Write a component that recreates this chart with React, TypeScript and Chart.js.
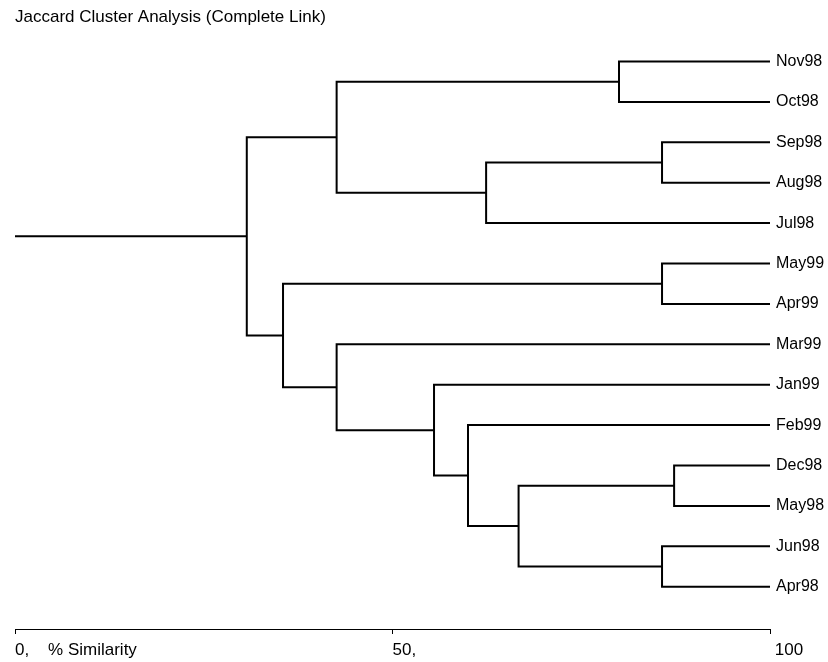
import React, { useEffect, useRef } from "react";
import { Chart, registerables } from "chart.js";

Chart.register(...registerables);

// Leaves, top to bottom
const leafLabels = [
  "Nov98", "Oct98", "Sep98", "Aug98", "Jul98", "May99", "Apr99",
  "Mar99", "Jan99", "Feb99", "Dec98", "May98", "Jun98", "Apr98",
];

// Merges (node ids: 0..13 leaves, 14+ = merge k)
const mergeLeft = [0, 2, 15, 14, 5, 10, 12, 19, 9, 8, 7, 18, 17];
const mergeRight = [1, 3, 4, 16, 6, 11, 13, 20, 21, 22, 23, 24, 25];
const mergeSimilarity = [80.0, 85.7, 62.4, 42.6, 85.7, 87.3, 85.7, 66.7, 60.0, 55.5, 42.6, 35.5, 30.7];
const rootStart = 0;
const leafSimilarity = 100;

const xTickValues = [0, 50, 100];
const xTickLabels = ["0,    % Similarity", "50,", " 100"];

const titleText = "Jaccard Cluster Analysis (Complete Link)";

function buildDatasets() {
  const nodeX: number[] = leafLabels.map(() => leafSimilarity);
  const nodeY: number[] = leafLabels.map((_, i) => i);
  const datasets: any[] = [];
  mergeSimilarity.forEach((h, k) => {
    const a = mergeLeft[k];
    const b = mergeRight[k];
    const ya = nodeY[a];
    const yb = nodeY[b];
    datasets.push({
      data: [
        { x: nodeX[a], y: ya },
        { x: h, y: ya },
        { x: h, y: yb },
        { x: nodeX[b], y: yb },
      ],
    });
    nodeX.push(h);
    nodeY.push((ya + yb) / 2);
  });
  const rootId = nodeX.length - 1;
  datasets.push({
    data: [
      { x: rootStart, y: nodeY[rootId] },
      { x: nodeX[rootId], y: nodeY[rootId] },
    ],
  });
  return datasets.map((d) => ({
    ...d,
    showLine: true,
    borderColor: "#000",
    borderWidth: 2,
    pointRadius: 0,
    pointHoverRadius: 0,
    tension: 0,
    borderJoinStyle: "miter",
    borderCapStyle: "butt",
    fill: false,
  }));
}

export default function App() {
  const ref = useRef<HTMLCanvasElement>(null);
  useEffect(() => {
    if (!ref.current) return;
    const chart = new Chart(ref.current, {
      type: "scatter",
      data: { datasets: buildDatasets() },
      options: {
        animation: false,
        responsive: false,
        devicePixelRatio: 1,
        events: [],
        layout: { padding: { left: 15, right: 0, top: 0, bottom: 0 } },
        plugins: {
          legend: { display: false },
          tooltip: { enabled: false },
          title: {
            display: true,
            text: titleText,
            align: "start",
            color: "#000",
            font: { family: "'Liberation Sans', Arial, sans-serif", size: 17, weight: "normal" },
            padding: { top: 7, bottom: 12.6 },
          },
        },
        scales: {
          x: {
            type: "linear",
            position: "bottom",
            min: 0,
            max: 100,
            afterBuildTicks: (scale: any) => {
              scale.ticks = xTickValues.map((v) => ({ value: v }));
            },
            afterFit: (scale: any) => {
              scale.height = 33;
            },
            grid: {
              drawOnChartArea: false,
              drawTicks: true,
              tickLength: 5,
              color: "#000",
              lineWidth: 1,
            },
            border: { display: true, color: "#000", width: 1 },
            ticks: {
              autoSkip: false,
              maxRotation: 0,
              align: "start",
              padding: 6,
              color: "#000",
              font: { family: "'Liberation Sans', Arial, sans-serif", size: 17 },
              callback: (v: any) => {
                const i = xTickValues.indexOf(Number(v));
                return i >= 0 ? xTickLabels[i] : "";
              },
            },
          },
          y: {
            type: "linear",
            position: "right",
            reverse: true,
            min: -0.532,
            max: 14.047,
            afterBuildTicks: (scale: any) => {
              scale.ticks = leafLabels.map((_, i) => ({ value: i }));
            },
            afterFit: (scale: any) => {
              scale.width = 58;
            },
            grid: { display: false, drawTicks: false },
            border: { display: false },
            ticks: {
              autoSkip: false,
              padding: 6,
              color: "#000",
              font: { family: "'Liberation Sans', Arial, sans-serif", size: 16 },
              callback: (v: any) => leafLabels[Number(v)] ?? "",
            },
          },
        },
      } as any,
    });
    return () => chart.destroy();
  }, []);
  return (
    <div style={{ position: "fixed", left: 0, top: 0, width: 828, height: 662, background: "#fff" }}>
      <canvas ref={ref} width={828} height={662} style={{ display: "block" }} />
    </div>
  );
}
